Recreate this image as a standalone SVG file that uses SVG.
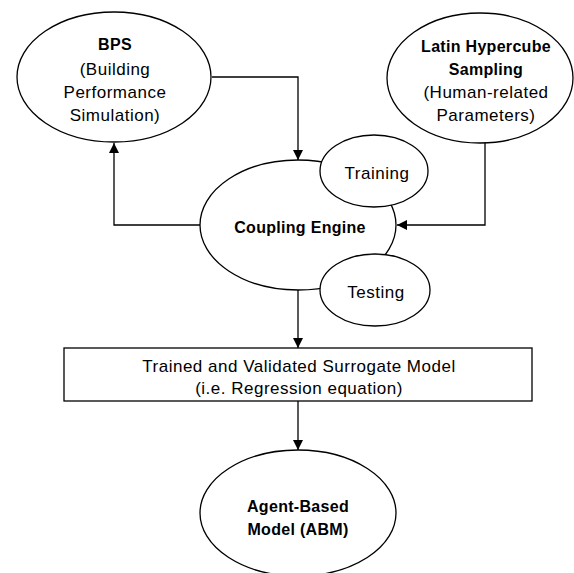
<svg xmlns="http://www.w3.org/2000/svg" width="574" height="573" viewBox="0 0 574 573">
<defs>
<marker id="ah" markerWidth="10" markerHeight="10" refX="10" refY="5" orient="auto" markerUnits="userSpaceOnUse">
<path d="M0,0 L10,5 L0,10 Z" fill="#000"/>
</marker>
<style>
.n{fill:#fff;stroke:#000;stroke-width:1.3}
.c{fill:none;stroke:#000;stroke-width:1.3;marker-end:url(#ah)}
text{font-family:"Liberation Sans",Arial,sans-serif;fill:#000;text-anchor:middle}
.r{font-size:17px;letter-spacing:0.5px}
.b{font-size:16px;font-weight:bold;letter-spacing:0.3px}
</style>
</defs>
<rect width="574" height="573" fill="#fff"/>
<g id="connectors">
<path class="c" d="M212,77 H298 V160"/>
<path class="c" d="M200,225 H114 V143"/>
<path class="c" d="M485,143 V225 H397"/>
<path class="c" d="M298,290 V348"/>
<path class="c" d="M298,401 V450"/>
</g>
<g id="bps">
<ellipse class="n" cx="114" cy="77" rx="97" ry="65"/>
<text class="b" x="115" y="50">BPS</text>
<text class="r" x="115" y="75">(Building</text>
<text class="r" x="115" y="98">Performance</text>
<text class="r" x="115" y="121">Simulation)</text>
</g>
<g id="lhs">
<ellipse class="n" cx="480" cy="78" rx="93" ry="65"/>
<text class="b" x="486" y="52">Latin Hypercube</text>
<text class="b" x="486" y="75">Sampling</text>
<text class="r" x="486" y="98">(Human-related</text>
<text class="r" x="486" y="121">Parameters)</text>
</g>
<g id="coupling">
<ellipse class="n" cx="298" cy="225" rx="98" ry="65"/>
<text class="b" x="300" y="233">Coupling Engine</text>
</g>
<g id="training">
<ellipse class="n" cx="374" cy="171" rx="54" ry="36"/>
<text class="r" x="377" y="179">Training</text>
</g>
<g id="testing">
<ellipse class="n" cx="375" cy="290" rx="55" ry="36"/>
<text class="r" x="376" y="298">Testing</text>
</g>
<g id="surrogate">
<rect class="n" x="64" y="348" width="468" height="53"/>
<text class="r" x="299" y="372">Trained and Validated Surrogate Model</text>
<text class="r" x="299" y="394">(i.e. Regression equation)</text>
</g>
<g id="abm">
<ellipse class="n" cx="298" cy="513" rx="98" ry="63"/>
<text class="b" x="298" y="512">Agent-Based</text>
<text class="b" x="298" y="535">Model (ABM)</text>
</g>
</svg>
